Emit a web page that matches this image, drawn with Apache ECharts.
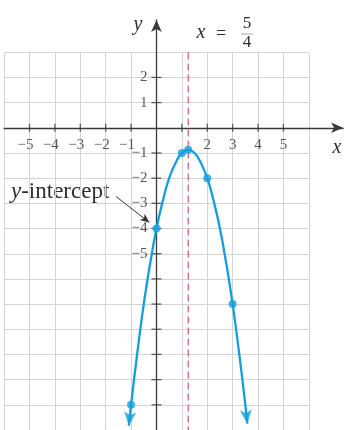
<!DOCTYPE html>
<html>
<head>
<meta charset="utf-8">
<style>
html, body { margin: 0; padding: 0; background: #ffffff; }
#chart { width: 346px; height: 430px; }
</style>
<script src="https://cdn.jsdelivr.net/npm/echarts@6/dist/echarts.min.js"></script>
</head>
<body>
<div id="chart"></div>
<script>
// Parabola traced through the graph paper
const curveX = [-1.09, -1, -0.75, -0.5, -0.25, 0, 0.25, 0.5, 0.75, 1, 1.25, 1.5, 1.75, 2, 2.25, 2.5, 2.75, 3, 3.25, 3.5, 3.58];
const curveY = [-11.83, -11, -8.9, -7, -5.4, -4, -2.9, -2, -1.4, -1, -0.88, -1, -1.4, -2, -2.9, -4, -5.4, -7, -8.9, -11, -11.75];

// Plotted points on the curve
const pointX = [-1, 0, 1, 1.25, 2, 3];
const pointY = [-11, -4, -1, -0.875, -2, -7];

// Arrowheads at both ends of the curve
const arrowX = [-1.09, 3.58];
const arrowY = [-11.83, -11.75];
const arrowAngle = [174, 186];

// Axis of symmetry
const symmetryX = 1.25;

// Tick marks and tick labels
const xTickValues = [-5, -4, -3, -2, -1, 1, 2, 3, 4, 5];
const xLabelValues = [-5, -4, -3, -2, -1, 2, 3, 4, 5];
const xLabelTexts = ['−5', '−4', '−3', '−2', '−1', '2', '3', '4', '5'];
const yTickValues = [2, 1, -1, -2, -3, -4, -5, -6, -7, -8, -9, -10, -11];
const yLabelValues = [2, 1, -1, -2, -3, -4, -5];
const yLabelTexts = ['2', '1', '−1', '−2', '−3', '−4', '−5'];

// y-intercept callout arrow
const calloutFrom = [-1.59, -2.73];
const calloutTo = [-0.28, -3.76];

const SERIF = "'Liberation Serif', 'DejaVu Serif', serif";
const BLUE = '#139fdf';
const INK = '#2e2e2e';
const AXIS = '#3a3a3a';

const chart = echarts.init(document.getElementById('chart'), null, { renderer: 'canvas' });

chart.setOption({
  animation: false,
  backgroundColor: '#ffffff',
  grid: [
    // graph paper
    { left: 4.1, top: 52.4, width: 304.8, height: 379.5 },
    // axes and curve
    { left: 4.1, top: 20, width: 339, height: 411.9 }
  ],
  xAxis: [
    {
      gridIndex: 0, type: 'value', min: -6, max: 6, interval: 1,
      axisLine: { show: false }, axisTick: { show: false }, axisLabel: { show: false },
      splitLine: { show: true, lineStyle: { color: '#d4d4d4', width: 1 } }
    },
    {
      gridIndex: 1, type: 'value', min: -6, max: 7.35,
      axisLine: {
        show: true, onZero: true, symbol: ['none', 'arrow'], symbolSize: [8, 12],
        lineStyle: { color: AXIS, width: 1.3 }
      },
      axisTick: { show: false }, axisLabel: { show: false }, splitLine: { show: false }
    }
  ],
  yAxis: [
    {
      gridIndex: 0, type: 'value', min: -12, max: 3, interval: 1,
      axisLine: { show: false }, axisTick: { show: false }, axisLabel: { show: false },
      splitLine: { show: true, lineStyle: { color: '#d4d4d4', width: 1 } }
    },
    {
      gridIndex: 1, type: 'value', min: -12, max: 4.28,
      axisLine: {
        show: true, onZero: true, symbol: ['none', 'arrow'], symbolSize: [8, 12],
        lineStyle: { color: AXIS, width: 1.3 }
      },
      axisTick: { show: false }, axisLabel: { show: false }, splitLine: { show: false }
    }
  ],
  series: [
    {
      name: 'symmetry',
      type: 'line',
      xAxisIndex: 0, yAxisIndex: 0,
      data: [[symmetryX, 3], [symmetryX, -12]],
      symbol: 'none',
      lineStyle: { color: '#dc5f82', width: 1.3, type: [7, 4] },
      z: 2
    },
    {
      name: 'xTicks',
      type: 'scatter',
      xAxisIndex: 1, yAxisIndex: 1,
      data: xTickValues.map(v => [v, 0]),
      symbol: 'rect', symbolSize: [1.3, 8],
      itemStyle: { color: AXIS },
      z: 3
    },
    {
      name: 'yTicks',
      type: 'scatter',
      xAxisIndex: 1, yAxisIndex: 1,
      data: yTickValues.map(v => [0, v]),
      symbol: 'rect', symbolSize: [10, 1.3],
      itemStyle: { color: AXIS },
      z: 3
    },
    {
      name: 'xLabels',
      type: 'scatter',
      xAxisIndex: 1, yAxisIndex: 1,
      symbolSize: 0,
      data: xLabelValues.map((v, i) => ({
        value: [v, 0],
        label: { offset: [v < 0 ? -4 : 0, 0] }
      })),
      label: {
        show: true, position: 'bottom', distance: 10,
        formatter: p => xLabelTexts[p.dataIndex],
        fontFamily: SERIF, fontSize: 15, color: INK
      },
      z: 4
    },
    {
      name: 'yLabels',
      type: 'scatter',
      xAxisIndex: 1, yAxisIndex: 1,
      symbolSize: 0,
      data: yLabelValues.map(v => [0, v]),
      label: {
        show: true, position: 'left', distance: 9,
        formatter: p => yLabelTexts[p.dataIndex],
        fontFamily: SERIF, fontSize: 15, color: INK
      },
      z: 4
    },
    {
      name: 'curve',
      type: 'line',
      xAxisIndex: 1, yAxisIndex: 1,
      data: curveX.map((x, i) => [x, curveY[i]]),
      smooth: true,
      symbol: 'none',
      lineStyle: { color: BLUE, width: 2.3 },
      z: 5
    },
    {
      name: 'points',
      type: 'scatter',
      xAxisIndex: 1, yAxisIndex: 1,
      data: pointX.map((x, i) => [x, pointY[i]]),
      symbol: 'circle', symbolSize: 8,
      itemStyle: { color: BLUE },
      z: 6,
      markLine: {
        silent: true,
        symbol: ['none', 'arrow'],
        symbolSize: [6, 9],
        label: { show: false },
        lineStyle: { color: '#333333', width: 1, type: 'solid' },
        data: [[{ coord: calloutFrom }, { coord: calloutTo }]]
      }
    },
    {
      name: 'arrowheads',
      type: 'scatter',
      xAxisIndex: 1, yAxisIndex: 1,
      clip: false,
      data: arrowX.map((x, i) => ({ value: [x, arrowY[i]], symbolRotate: arrowAngle[i] })),
      symbol: 'arrow', symbolSize: [9, 14],
      itemStyle: { color: BLUE },
      z: 6
    }
  ],
  graphic: [
    { type: 'text', x: 138, y: 25, style: { text: 'y', font: 'italic 20px ' + SERIF, fill: INK, align: 'center', verticalAlign: 'middle' } },
    { type: 'text', x: 201, y: 33, style: { text: 'x', font: 'italic 20px ' + SERIF, fill: INK, align: 'center', verticalAlign: 'middle' } },
    { type: 'text', x: 221, y: 34, style: { text: '=', font: '18px ' + SERIF, fill: INK, align: 'center', verticalAlign: 'middle' } },
    { type: 'text', x: 247, y: 24, style: { text: '5', font: '17px ' + SERIF, fill: INK, align: 'center', verticalAlign: 'middle' } },
    { type: 'line', shape: { x1: 241, y1: 34, x2: 253, y2: 34 }, style: { stroke: '#8a8a8a', lineWidth: 0.8 } },
    { type: 'text', x: 247, y: 43, style: { text: '4', font: '17px ' + SERIF, fill: INK, align: 'center', verticalAlign: 'middle' } },
    { type: 'text', x: 337, y: 148, style: { text: 'x', font: 'italic 20px ' + SERIF, fill: INK, align: 'center', verticalAlign: 'middle' } },
    {
      type: 'text', x: 11, y: 192,
      style: {
        text: '{i|y}-intercept',
        font: '23px ' + SERIF, fill: INK, align: 'left', verticalAlign: 'middle',
        rich: { i: { fontStyle: 'italic', fontFamily: SERIF, fontSize: 23 } }
      }
    }
  ]
});
</script>
</body>
</html>
